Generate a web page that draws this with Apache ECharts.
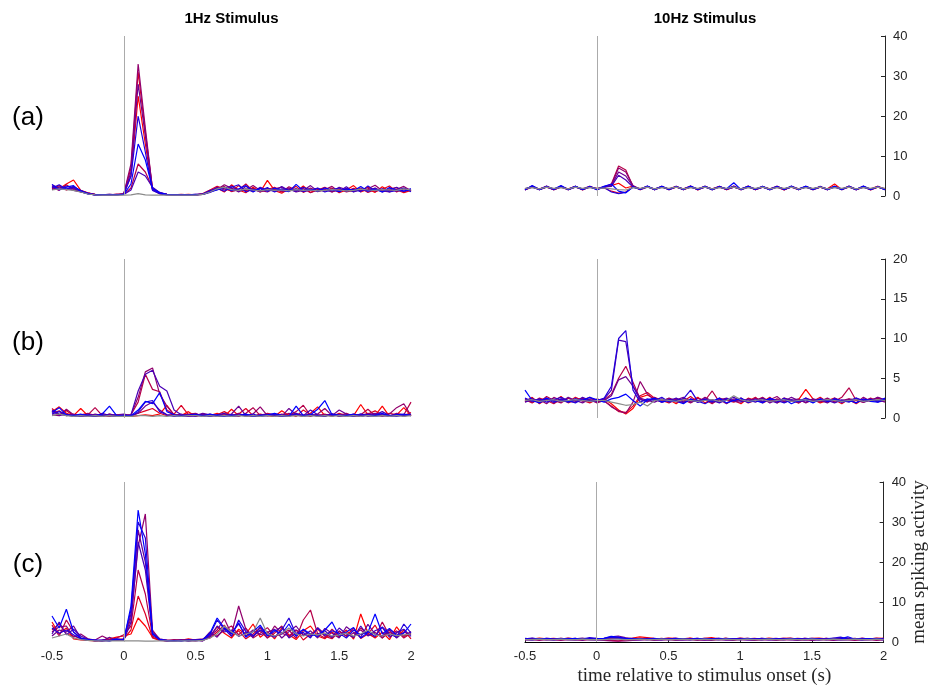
<!DOCTYPE html>
<html>
<head>
<meta charset="utf-8">
<script src="https://cdn.jsdelivr.net/npm/echarts@6/dist/echarts.min.js"></script>
<style>
html,body{margin:0;padding:0;background:#fff}
#chart{width:930px;height:687px}
</style>
</head>
<body>
<div id="chart"></div>
<script>
// Bin centres (s) relative to stimulus onset
const times = [-0.5,-0.45,-0.4,-0.35,-0.3,-0.25,-0.2,-0.15,-0.1,-0.05,
  0,0.05,0.1,0.15,0.2,0.25,0.3,0.35,0.4,0.45,
  0.5,0.55,0.6,0.65,0.7,0.75,0.8,0.85,0.9,0.95,
  1,1.05,1.1,1.15,1.2,1.25,1.3,1.35,1.4,1.45,
  1.5,1.55,1.6,1.65,1.7,1.75,1.8,1.85,1.9,1.95,2];

// Mean spiking activity per unit; 8 units (red -> blue) plus the grey population trace last
const respA1Hz = [
  [2.5,1.8,3.0,4.0,1.4,0.8,0.4,0.3,0.3,0.4, 0.5,5,25,13,1.5,0.6,0.4,0.3,0.3,0.4, 0.3,0.5,1.2,2.0,1.0,2.8,1.5,0.8,2.2,1.0, 3.9,1.4,0.7,1.8,1.1,2.5,0.9,1.6,1.2,2.0, 0.8,1.5,2.6,1.0,1.7,0.9,2.3,1.2,1.6,0.8,1.4],
  [1.8,2.6,1.5,2.0,1.2,0.7,0.3,0.3,0.4,0.3, 0.6,7,31,16,1.8,0.7,0.4,0.3,0.4,0.3, 0.3,0.6,1.5,2.4,1.8,1.2,2.6,1.3,1.9,1.0, 1.6,2.2,1.1,1.5,2.4,0.9,1.8,1.3,2.1,1.0, 1.6,1.2,1.9,1.4,2.2,1.1,1.7,2.5,1.0,1.9,1.2],
  [2.2,1.4,2.8,1.6,1.1,0.6,0.4,0.3,0.3,0.4, 0.4,2,8,6,2.0,0.8,0.4,0.3,0.3,0.3, 0.4,0.5,1.0,1.8,2.4,1.1,1.6,3.0,1.2,2.0, 1.3,1.7,1.0,2.3,1.4,1.9,0.8,1.5,2.2,1.1, 1.8,1.0,1.4,2.0,0.9,1.6,1.3,1.8,2.1,1.0,1.5],
  [2.8,2.0,1.6,2.4,1.3,0.7,0.3,0.3,0.3,0.3, 0.5,8,33,17,1.6,0.6,0.3,0.3,0.3,0.3, 0.3,0.5,1.4,1.6,2.8,1.9,1.2,1.5,2.6,1.4, 1.0,1.8,2.2,1.2,1.7,1.3,2.0,1.1,1.6,2.4, 1.0,1.9,1.2,1.5,1.8,2.7,1.3,1.0,1.7,2.4,1.3],
  [1.6,2.3,2.0,1.4,1.0,0.6,0.3,0.3,0.3,0.4, 0.5,6,28,15,1.7,0.7,0.4,0.3,0.3,0.3, 0.3,0.4,1.1,2.2,1.5,2.0,1.0,2.4,1.6,1.1, 1.9,1.3,1.6,2.0,1.0,1.4,2.6,1.2,1.5,1.0, 2.2,1.6,1.1,1.8,1.4,2.0,1.0,1.5,1.2,1.8,1.6],
  [2.4,1.9,2.5,1.8,1.2,0.7,0.4,0.3,0.3,0.3, 0.4,1.5,6,5,2.2,0.9,0.4,0.3,0.3,0.3, 0.3,0.4,0.9,1.7,2.0,2.5,1.3,1.8,1.0,2.2, 1.5,1.2,2.4,1.4,1.8,1.1,1.5,2.0,1.3,1.7, 1.2,2.3,1.0,1.6,1.3,1.9,1.1,1.4,2.2,1.2,1.7],
  [2.0,2.8,1.7,2.2,1.4,0.6,0.3,0.3,0.4,0.3, 0.5,5,20,11,1.4,0.6,0.3,0.3,0.3,0.3, 0.3,0.5,1.3,1.9,1.2,2.2,2.8,1.0,1.7,1.3, 2.1,1.0,1.8,1.5,1.2,2.2,1.4,1.9,1.0,1.6, 2.0,1.2,1.7,1.1,2.5,1.3,1.8,1.0,1.4,2.0,1.1],
  [2.9,1.5,2.2,2.6,1.1,0.5,0.3,0.3,0.3,0.3, 0.4,3,13,9,1.9,0.8,0.4,0.3,0.3,0.3, 0.4,0.4,1.0,1.5,2.2,1.4,1.8,2.6,1.1,1.9, 1.2,2.0,1.4,1.1,2.9,1.3,1.6,1.2,2.0,1.5, 1.1,1.8,1.3,2.4,1.2,1.7,1.0,2.1,1.4,1.2,1.8],
  [1.5,1.8,1.6,1.4,1.0,0.5,0.3,0.2,0.2,0.2, 0.2,0.3,0.6,0.3,0.2,0.2,0.2,0.2,0.2,0.2, 0.2,0.4,1.0,1.8,2.2,1.6,1.4,1.7,1.5,1.3, 1.6,1.4,1.5,1.3,1.6,1.4,1.5,1.3,1.4,1.6, 1.5,1.3,1.4,1.7,1.5,1.4,1.6,1.5,1.4,1.8,1.5]
];

const respA10Hz = [
  [1.5,2.3,1.7,2.4,1.6,2.2,1.8,2.4,1.5,2.3, 1.8,2.2,2.6,3.2,2.0,2.5,1.6,2.3,1.7,2.4, 1.6,2.2,1.8,2.5,1.5,2.4,1.7,2.3,1.6,2.2, 1.7,2.4,1.6,2.3,1.8,2.2,1.5,2.4,1.7,2.3, 1.6,2.2,1.8,3.0,1.6,2.3,1.7,2.4,1.5,2.2,1.8],
  [1.7,2.4,1.6,2.2,1.7,2.5,1.6,2.3,1.7,2.2, 1.9,2.0,1.2,0.7,1.0,2.3,1.8,2.4,1.6,2.3, 1.7,2.3,1.6,2.2,1.8,2.4,1.6,2.2,1.7,2.5, 1.6,2.2,1.8,2.3,1.6,2.4,1.7,2.2,1.6,2.3, 1.8,2.2,1.6,2.4,1.7,2.3,1.6,2.2,1.8,2.4,1.6],
  [1.6,2.2,1.8,2.3,1.6,2.4,1.7,2.2,1.8,2.4, 1.7,2.3,3.0,7.5,6.5,2.4,1.8,2.3,1.7,2.2, 1.8,2.4,1.6,2.3,1.7,2.2,1.8,2.4,1.6,2.3, 1.7,2.5,1.6,2.2,1.7,2.3,1.6,2.4,1.8,2.2, 1.7,2.3,1.6,2.4,1.7,2.2,1.6,2.3,1.7,2.4,1.7],
  [1.8,2.3,1.6,2.4,1.7,2.2,1.6,2.3,1.7,2.3, 1.6,2.2,2.8,7.0,6.0,2.6,1.7,2.4,1.6,2.3, 1.7,2.2,1.7,2.4,1.6,2.3,1.8,2.2,1.7,2.4, 1.6,2.3,1.7,2.4,1.6,2.2,1.8,2.3,1.6,2.4, 1.7,2.2,1.7,2.3,1.8,2.4,1.6,2.2,1.7,2.3,1.8],
  [1.7,2.5,1.7,2.2,1.6,2.3,1.7,2.4,1.6,2.2, 1.8,2.4,2.6,6.0,5.0,2.4,1.6,2.2,1.8,2.3, 1.6,2.4,1.7,2.2,1.8,2.3,1.6,2.4,1.7,2.2, 1.8,2.3,1.6,2.2,1.8,2.4,1.6,2.3,1.7,2.2, 1.6,2.4,1.7,2.3,1.6,2.5,1.7,2.3,1.6,2.2,1.7],
  [1.6,2.3,1.7,2.5,1.6,2.3,1.6,2.2,1.7,2.4, 1.7,2.3,2.4,5.2,4.0,2.2,1.7,2.4,1.6,2.2, 1.7,2.3,1.7,2.4,1.6,2.2,1.7,2.3,1.8,2.4, 1.6,2.2,1.7,2.3,1.7,2.4,1.6,2.3,1.7,2.2, 1.8,2.3,1.6,2.2,1.7,2.3,1.6,2.4,1.7,2.3,1.6],
  [1.8,2.2,1.6,2.3,1.8,2.3,1.7,2.4,1.6,2.3, 1.8,2.1,1.0,0.6,0.9,2.2,1.7,2.3,1.7,2.4, 1.6,2.3,1.8,2.2,1.7,2.4,1.6,2.3,1.7,2.2, 1.8,2.4,1.7,2.2,1.6,2.3,1.7,2.2,1.8,2.4, 1.6,2.2,1.8,2.3,1.6,2.4,1.7,2.2,1.6,2.3,1.7],
  [1.5,2.6,1.6,2.3,1.7,2.6,1.6,2.4,1.7,2.3, 1.6,2.4,3.0,1.2,0.8,2.3,1.7,2.5,1.6,2.4, 1.7,2.3,1.6,2.5,1.7,2.4,1.6,2.3,1.8,3.3, 1.6,2.4,1.7,2.4,1.6,2.3,1.7,2.5,1.6,2.4, 1.7,2.3,1.6,2.4,1.7,2.3,1.6,2.5,1.7,2.3,1.6],
  [1.9,2.1,1.8,2.2,1.9,2.1,1.8,2.2,1.9,2.1, 1.9,2.0,1.8,1.6,1.5,2.1,1.9,2.2,1.8,2.1, 1.9,2.2,1.8,2.1,1.9,2.2,1.8,2.1,1.9,2.2, 1.8,2.1,1.9,2.2,1.8,2.1,1.9,2.2,1.8,2.1, 1.9,2.2,1.8,2.1,1.9,2.2,1.8,2.1,1.9,2.2,1.9]
];

const respB1Hz = [
  [0.8,1.4,0.6,0.3,1.2,0.3,0.2,0.4,0.3,0.4, 0.3,0.2,0.3,0.4,0.3,0.5,1.6,0.4,0.3,0.8, 0.2,0.4,0.3,0.6,0.2,1.1,0.3,0.4,0.2,0.5, 0.3,0.2,0.9,0.3,0.4,0.2,0.6,1.4,0.3,0.5, 0.2,0.4,0.3,1.7,0.4,0.3,1.5,0.2,0.4,1.3,0.3],
  [1.2,0.4,0.9,0.3,0.4,0.6,0.3,0.2,0.5,0.3, 0.4,0.3,0.6,0.9,1.2,0.6,0.3,0.5,1.6,0.4, 0.3,0.5,0.2,0.4,0.8,0.3,0.5,1.2,0.3,0.2, 0.6,0.4,0.3,0.5,0.2,1.0,0.4,0.3,0.5,0.2, 0.6,0.3,0.4,0.2,0.5,0.9,0.3,0.6,0.4,0.3,0.7],
  [0.6,0.9,0.3,0.5,0.2,0.4,1.3,0.3,0.2,0.4, 0.3,0.4,2.0,5.5,3.6,3.3,1.0,0.4,0.3,0.5, 0.6,0.2,0.4,0.3,0.5,0.4,0.2,0.6,1.3,0.3, 0.4,0.2,0.5,0.3,0.8,1.6,0.3,0.4,0.2,0.5, 0.3,0.6,0.2,0.4,1.1,0.3,0.5,0.2,0.6,0.4,2.0],
  [0.4,0.3,1.1,0.4,0.3,0.2,0.5,0.3,0.4,0.2, 0.3,0.4,2.6,5.8,6.3,3.0,1.5,0.4,0.3,0.2, 0.4,0.3,0.5,0.2,0.4,0.3,0.6,0.2,0.5,1.4, 0.3,0.4,0.2,0.6,0.3,0.4,0.2,0.5,1.2,0.3, 0.4,0.2,0.5,0.3,0.6,0.4,0.2,0.5,1.3,1.8,0.3],
  [0.9,0.3,0.5,0.2,0.4,0.3,0.2,0.6,0.3,0.4, 0.5,0.3,0.6,1.5,2.0,1.0,0.4,0.3,0.5,0.2, 0.3,0.6,0.4,0.2,0.3,0.5,1.5,0.3,0.2,0.4, 0.5,0.3,0.2,1.2,0.4,0.3,0.5,0.2,0.4,0.3, 1.0,0.5,0.3,0.2,0.4,0.6,0.3,0.2,0.5,0.3,0.4],
  [1.0,0.5,0.3,0.4,0.2,0.3,0.4,0.2,0.5,0.3, 0.2,0.4,3.4,5.5,6.0,4.0,3.4,1.0,0.4,0.3, 0.2,0.5,0.3,0.4,0.6,0.2,0.3,0.5,0.2,0.4, 0.3,0.5,0.4,0.2,0.6,0.3,1.0,0.4,0.3,0.5, 0.2,0.4,0.3,0.5,0.2,0.4,0.8,0.3,0.5,0.2,0.5],
  [0.5,0.8,0.4,0.2,0.3,0.5,0.2,0.4,0.3,0.2, 0.4,0.2,0.8,2.0,2.2,0.8,0.4,0.2,0.3,0.4, 0.5,0.3,0.2,0.4,0.3,0.2,0.4,0.3,0.5,0.2, 0.3,0.4,0.2,0.3,0.5,0.2,0.4,0.3,0.2,0.5, 0.4,0.3,0.2,0.5,0.3,0.2,0.4,0.3,0.2,0.4,0.3],
  [0.7,1.3,0.4,0.3,0.5,0.2,0.3,0.5,1.5,0.3, 0.2,0.3,1.0,2.1,1.8,3.2,0.8,0.4,0.2,0.3, 0.4,0.2,0.5,0.3,0.2,0.4,0.3,0.5,0.2,0.3, 0.4,0.6,0.3,0.2,1.5,0.3,0.4,1.1,2.2,0.4, 0.3,0.3,0.5,0.2,0.4,0.3,0.6,0.2,0.4,0.5,0.3],
  [0.3,0.5,0.3,0.2,0.3,0.2,0.3,0.2,0.3,0.2, 0.2,0.2,0.3,0.3,0.2,0.3,0.2,0.3,0.2,0.3, 0.3,0.2,0.3,0.2,0.3,0.2,0.3,0.2,0.3,0.2, 0.3,0.2,0.3,0.2,0.3,0.2,0.3,0.2,0.3,0.2, 0.3,0.2,0.3,0.2,0.3,0.2,0.3,0.2,0.3,0.2,0.3]
];

const respB10Hz = [
  [2.0,2.6,1.8,2.4,2.1,2.7,1.9,2.3,2.5,2.0, 2.2,2.4,1.8,1.0,0.5,1.2,2.6,2.9,2.4,2.0, 2.3,1.8,2.5,2.1,2.6,1.9,2.3,2.0,2.4,2.2, 1.8,2.5,2.2,2.0,2.6,1.9,2.3,2.1,2.3,3.6, 2.4,1.9,2.2,2.5,2.0,2.3,1.8,2.4,2.1,2.6,2.2],
  [2.3,1.9,2.5,2.2,1.8,2.4,2.0,2.6,2.2,1.9, 2.4,2.1,1.5,0.8,0.7,1.5,2.8,3.2,2.5,2.2, 1.9,2.4,2.1,2.7,2.0,2.3,1.8,2.5,2.2,2.0, 2.4,2.1,2.6,1.9,2.3,2.0,2.5,2.2,1.9,2.4, 2.1,2.6,2.0,2.3,1.8,2.4,2.2,2.0,2.5,2.1,2.3],
  [2.1,2.4,2.0,2.7,2.2,1.9,2.5,2.1,2.3,2.6, 2.0,2.3,3.0,5.0,6.5,4.5,2.4,2.0,2.6,2.2, 2.4,2.0,2.3,1.9,2.5,2.2,3.4,2.0,2.3,2.1, 2.5,1.9,2.2,2.6,2.0,2.4,2.1,2.3,1.9,2.5, 2.2,2.0,2.4,2.1,2.6,3.8,2.2,2.0,2.3,2.5,2.1],
  [2.4,2.0,2.3,1.8,2.6,2.2,2.0,2.4,2.1,2.3, 1.9,2.2,1.4,0.9,0.6,2.0,4.6,3.0,2.3,2.1, 2.5,2.2,1.9,2.4,2.0,2.6,2.1,2.3,1.8,2.4, 2.2,2.0,2.5,2.1,2.3,2.7,2.0,2.2,2.4,1.9, 2.3,2.1,2.5,2.0,2.2,2.4,1.9,2.6,2.1,2.3,2.0],
  [2.2,2.5,1.9,2.3,2.4,2.0,2.6,2.2,1.9,2.4, 2.3,2.2,2.8,4.8,5.2,4.0,2.5,2.2,2.0,2.4, 2.1,2.3,2.6,2.0,2.2,2.4,1.9,2.3,2.5,2.1, 2.0,2.4,2.2,2.5,1.9,2.3,2.1,2.6,2.2,2.0, 2.4,2.2,1.9,2.5,2.1,2.3,2.4,2.0,2.2,2.6,2.3],
  [2.0,2.3,2.2,2.5,1.9,2.4,2.1,2.0,2.6,2.2, 2.1,2.4,3.5,9.8,9.6,4.0,2.3,2.1,2.4,2.0, 2.2,2.5,2.0,2.3,2.1,2.4,2.2,1.9,2.3,2.6, 2.1,2.3,2.0,2.4,2.2,1.9,2.5,2.2,2.0,2.3, 2.1,2.4,2.2,1.9,2.3,2.1,2.5,2.2,2.4,2.0,2.2],
  [2.5,2.1,2.4,2.0,2.3,2.6,2.2,1.9,2.4,2.1, 2.2,2.5,4.0,10.0,11.0,3.5,2.0,2.4,2.2,2.6, 2.0,2.2,2.4,3.5,2.1,1.8,2.3,2.0,2.4,2.2, 2.5,2.0,2.3,2.1,2.4,2.2,1.9,2.3,2.1,2.5, 2.0,2.3,2.1,2.4,2.2,2.0,2.5,2.1,2.3,2.2,2.4],
  [3.5,2.2,1.9,2.5,2.1,2.3,2.0,2.4,2.2,2.6, 2.3,2.0,2.4,2.6,3.0,2.2,1.5,2.3,2.5,2.0, 2.3,2.1,1.8,2.4,2.0,2.3,2.1,2.5,1.9,2.2, 2.4,2.0,2.2,1.9,2.5,2.1,2.4,1.8,2.2,2.3, 1.9,2.4,2.1,2.3,2.0,2.2,1.9,2.4,2.1,2.0,2.5],
  [2.2,2.3,2.1,2.2,2.3,2.1,2.2,2.3,2.2,2.1, 2.2,2.2,2.0,1.8,1.6,1.7,2.0,1.5,2.2,2.3, 2.2,2.1,2.3,2.2,2.1,2.2,2.3,2.1,2.2,2.8, 2.3,2.1,2.2,2.3,2.1,2.2,2.3,2.1,2.2,2.3, 2.1,2.2,2.3,2.2,2.1,2.2,2.3,2.1,2.2,2.3,2.2]
];

const respC1Hz = [
  [5.0,2.0,3.5,0.8,0.5,0.4,0.3,0.5,0.8,1.2, 1.5,2.0,6.0,4.0,1.2,0.5,0.3,0.6,0.4,0.8, 0.5,0.3,1.5,3.8,2.2,1.0,3.2,2.0,4.5,1.2, 2.6,0.8,3.5,1.8,0.6,2.8,4.0,1.5,0.8,2.5, 1.2,3.0,0.7,7.0,2.2,1.0,2.5,0.6,3.8,1.4,2.0],
  [3.0,4.5,2.0,1.5,0.8,0.5,0.4,0.3,0.5,0.7, 0.8,3.0,11.5,7.0,1.0,0.4,0.3,0.4,0.6,0.3, 0.4,0.5,1.0,2.5,4.2,1.5,2.8,0.8,2.0,3.5, 1.0,2.2,4.0,1.2,3.0,0.5,2.0,3.2,1.4,0.8, 2.6,1.5,3.5,0.9,2.0,4.2,1.0,2.5,1.2,3.0,0.8],
  [4.2,1.5,5.5,2.5,1.0,0.6,0.3,0.4,0.6,1.0, 1.8,4.0,18.0,12.0,1.5,0.6,0.5,0.3,0.4,0.5, 0.3,0.6,2.0,1.5,3.0,4.0,1.8,3.5,1.0,2.2, 3.6,1.4,2.0,3.0,0.9,5.5,8.0,2.0,1.0,3.2, 1.5,2.4,1.0,3.5,2.0,1.2,5.0,1.6,2.8,1.0,2.2],
  [2.5,3.8,4.0,1.2,2.0,0.8,0.5,1.5,0.6,0.4, 0.6,6.0,24.0,32.0,3.0,0.6,0.4,0.3,0.5,0.4, 0.6,0.8,1.5,3.0,5.8,2.0,9.0,3.2,1.5,2.8, 1.0,4.0,2.2,1.5,3.0,2.0,1.2,3.6,2.0,1.0, 2.8,1.4,2.2,3.0,1.6,2.4,1.0,3.2,2.0,1.5,2.6],
  [1.5,3.0,2.5,4.0,1.0,0.5,0.4,0.3,1.2,0.5, 0.5,7.0,28.0,20.0,2.5,0.8,0.4,0.5,0.3,0.6, 0.4,0.5,2.5,1.2,3.5,2.2,4.5,1.5,3.0,1.8, 2.4,3.2,1.0,2.6,4.0,1.6,2.8,1.0,3.4,2.2, 1.0,3.8,2.4,1.2,4.4,2.0,1.5,3.0,1.0,2.5,1.8],
  [2.0,5.0,1.8,3.2,1.5,0.7,0.3,0.4,0.3,0.6, 0.4,5.0,25.0,18.0,2.0,0.5,0.3,0.4,0.5,0.3, 0.5,0.4,1.2,4.0,2.5,3.0,1.4,2.4,1.2,3.8, 1.5,2.6,3.8,1.0,2.2,3.0,1.6,2.0,2.8,1.2, 3.5,2.0,1.2,4.0,1.5,2.8,3.6,1.2,2.4,3.2,1.4],
  [3.5,2.2,3.0,1.8,0.8,0.4,0.5,0.3,0.4,0.5, 0.7,8.0,30.0,26.0,2.2,0.5,0.3,0.3,0.4,0.3, 0.4,0.3,1.8,5.5,3.2,1.4,5.5,2.6,1.6,3.0, 2.0,1.2,3.0,6.0,1.8,2.4,1.0,3.5,1.6,2.8, 2.2,1.0,3.0,1.8,2.6,1.4,3.8,2.0,1.2,4.5,2.2],
  [6.5,3.5,8.2,2.5,1.0,0.6,0.4,0.5,0.3,0.8, 0.5,9.0,33.0,22.0,2.0,0.6,0.4,0.3,0.3,0.5, 0.4,0.6,2.2,6.0,3.5,2.0,4.8,1.2,2.6,4.2, 1.6,3.0,2.0,4.5,1.4,3.2,2.0,1.4,3.0,5.0, 1.5,2.5,3.6,1.0,2.4,7.0,2.0,3.4,1.6,2.2,4.5],
  [1.0,1.5,2.0,1.0,0.6,0.4,0.3,0.3,0.3,0.3, 0.3,0.3,0.3,0.2,0.2,0.3,0.3,0.2,0.3,0.3, 0.3,0.4,1.0,2.0,4.0,2.5,1.5,2.0,2.5,6.0, 2.0,1.5,2.2,3.5,2.0,1.5,2.0,1.8,2.2,1.5, 1.8,2.2,1.5,2.0,3.0,1.8,1.5,2.0,1.6,1.8,2.0]
];

const respC10Hz = [
  [0.8,0.7,1.0,0.8,0.9,0.7,1.0,0.8,0.7,0.9, 0.8,0.6,0.9,1.0,0.8,1.0,1.3,1.1,0.9,0.8, 1.0,0.9,0.8,1.0,0.7,0.9,1.1,0.8,0.9,0.7, 1.0,0.8,0.9,0.7,1.0,0.8,0.9,1.0,0.7,0.8, 0.9,1.0,0.8,0.7,0.9,1.0,0.8,0.9,0.7,1.0,0.9],
  [0.6,0.9,0.7,0.8,0.6,0.9,0.7,0.6,0.8,0.7, 0.9,0.5,0.4,0.3,0.5,0.7,0.9,0.8,0.6,0.9, 0.7,0.8,0.6,0.9,0.7,0.6,0.8,0.7,0.9,0.6, 0.8,0.7,0.6,0.9,0.7,0.8,0.6,0.7,0.9,0.8, 0.6,0.7,0.9,0.6,0.8,0.7,0.6,0.9,0.8,0.7,0.8],
  [0.7,0.8,0.6,0.9,0.8,0.6,0.7,0.9,0.6,0.8, 0.7,0.8,1.0,1.2,0.9,0.8,0.7,0.9,0.6,0.8, 0.9,0.7,0.8,0.6,0.9,0.7,0.8,0.9,0.6,0.7, 0.8,0.9,0.7,0.6,0.8,0.9,0.7,0.8,0.6,0.9, 0.7,0.8,0.6,0.9,0.7,0.8,0.9,0.6,0.8,0.7,0.8],
  [0.5,0.6,0.4,0.6,0.5,0.4,0.6,0.5,0.4,0.6, 0.5,0.4,0.3,0.2,0.3,0.4,0.5,0.6,0.4,0.5, 0.6,0.4,0.5,0.6,0.4,0.5,0.4,0.6,0.5,0.4, 0.6,0.5,0.4,0.5,0.6,0.4,0.5,0.6,0.4,0.5, 0.4,0.6,0.5,0.4,0.6,0.5,0.4,0.5,0.6,0.4,0.5],
  [0.9,0.7,0.8,0.6,0.8,0.9,0.7,0.8,1.0,0.7, 0.8,0.9,1.3,1.5,1.1,0.8,0.7,0.9,0.8,0.6, 0.8,0.9,0.7,0.8,0.6,0.9,0.8,0.7,0.9,0.8, 0.7,0.9,0.8,0.6,0.8,0.7,0.9,0.8,0.7,0.9, 0.8,0.6,0.9,0.8,0.7,0.9,0.8,0.7,0.8,0.9,0.7],
  [0.6,0.5,0.7,0.6,0.5,0.7,0.6,0.5,0.7,0.6, 0.5,0.6,0.8,0.9,0.7,0.6,0.5,0.7,0.6,0.5, 0.7,0.6,0.5,0.6,0.7,0.5,0.6,0.7,0.5,0.6, 0.7,0.5,0.6,0.7,0.5,0.6,0.7,0.6,0.5,0.7, 0.6,0.5,0.7,0.6,0.5,0.6,0.7,0.5,0.6,0.7,0.6],
  [0.8,1.0,0.7,0.9,0.8,0.7,0.9,0.8,0.7,1.1, 0.9,0.8,1.2,1.0,0.8,0.9,0.7,0.8,0.9,0.7, 0.8,0.9,0.7,0.8,0.9,0.7,0.8,0.9,0.8,0.7, 0.9,0.8,0.7,0.9,0.8,0.7,0.8,0.9,0.7,0.8, 0.9,0.7,0.8,1.0,1.2,0.8,0.7,0.9,0.8,0.7,0.9],
  [0.7,0.6,0.8,0.7,0.6,0.8,0.7,0.9,0.6,0.8, 0.7,0.9,1.4,1.2,0.9,0.7,0.8,0.6,0.7,0.8, 0.6,0.7,0.8,0.6,0.7,0.8,0.7,0.6,0.8,0.7, 0.6,0.8,0.7,0.6,0.7,0.8,0.6,0.7,0.8,0.6, 0.7,0.8,0.6,0.7,0.8,1.3,0.7,0.6,0.8,0.7,0.6],
  [0.6,0.6,0.7,0.6,0.6,0.7,0.6,0.6,0.7,0.6, 0.6,0.6,0.7,0.7,0.6,0.6,0.7,0.6,0.6,0.7, 0.6,0.6,0.7,0.6,0.6,0.7,0.6,0.6,0.7,0.6, 0.6,0.7,0.6,0.6,0.7,0.6,0.6,0.7,0.6,0.6, 0.7,0.6,0.6,0.7,0.6,0.6,0.7,0.6,0.6,0.7,0.6]
];

const columnTitles = ['1Hz Stimulus', '10Hz Stimulus'];
const rowTitles = ['(a)', '(b)', '(c)'];
const yMaxByRow = [40, 20, 40];
const yStepByRow = [10, 5, 10];
const xTicks = { min: -0.5, max: 2, step: 0.5 };

// Unit colours run from red to blue; last trace is grey
const unitColors = ['#ff0000','#db0024','#b60049','#92006d','#6d0092','#4900b6','#2400db','#0000ff'];
const greyTrace = '#8a8a8a';

const panelData = [[respA1Hz, respA10Hz], [respB1Hz, respB10Hz], [respC1Hz, respC10Hz]];
const colLeft = [52, 525], colWidth = [359, 360];
const rowTop = [36, 259, 482], rowHeight = [160, 159, 160];

const axisInk = '#262626';
const sans = 'Liberation Sans, Arial, sans-serif';
const serif = 'Liberation Serif, Times New Roman, serif';

const grid = [], xAxis = [], yAxis = [], series = [], graphic = [];

for (let r = 0; r < 3; r++) {
  for (let c = 0; c < 2; c++) {
    const idx = r * 2 + c;
    grid.push({ left: colLeft[c], top: rowTop[r], width: colWidth[c], height: rowHeight[r], containLabel: false });
    const bottomRight = (r === 2 && c === 1);
    xAxis.push({
      type: 'value', gridIndex: idx,
      min: xTicks.min, max: xTicks.max, interval: xTicks.step,
      show: r === 2,
      axisLine: { show: c === 1, onZero: false, lineStyle: { color: '#000', width: 1 } },
      axisTick: { show: c === 1, inside: true, length: 4, lineStyle: { color: axisInk } },
      axisLabel: { color: axisInk, fontSize: 13, fontFamily: sans, margin: 8 },
      splitLine: { show: false },
      name: bottomRight ? 'time relative to stimulus onset (s)' : '',
      nameLocation: 'middle', nameGap: 25,
      nameTextStyle: { fontFamily: serif, fontSize: 19, color: axisInk }
    });
    yAxis.push({
      type: 'value', gridIndex: idx,
      min: 0, max: yMaxByRow[r], interval: yStepByRow[r],
      show: c === 1, position: 'right',
      axisLine: { show: true, onZero: false, lineStyle: { color: axisInk, width: 1 } },
      axisTick: { show: true, inside: true, length: 4, lineStyle: { color: axisInk } },
      axisLabel: { color: axisInk, fontSize: 13, fontFamily: sans, margin: 8 },
      splitLine: { show: false },
      name: bottomRight ? 'mean spiking activity' : '',
      nameLocation: 'middle', nameGap: 24, nameRotate: 90,
      nameTextStyle: { fontFamily: serif, fontSize: 19, color: axisInk }
    });
    panelData[r][c].forEach((vals, k) => {
      const s = {
        type: 'line', xAxisIndex: idx, yAxisIndex: idx,
        data: times.map((t, i) => [t, vals[i]]),
        symbol: 'none', silent: true,
        lineStyle: { width: 1.2, color: k < unitColors.length ? unitColors[k] : greyTrace },
        emphasis: { disabled: true }
      };
      if (k === 0) {
        // stimulus onset marker
        s.markLine = {
          silent: true, symbol: ['none', 'none'], label: { show: false },
          lineStyle: { color: '#ababab', type: 'solid', width: 1 },
          emphasis: { disabled: true },
          data: [{ xAxis: 0 }]
        };
      }
      series.push(s);
    });
  }
}

columnTitles.forEach((t, c) => {
  graphic.push({
    type: 'text', x: colLeft[c] + colWidth[c] / 2, y: 19,
    style: { text: t, textAlign: 'center', textVerticalAlign: 'middle', font: 'bold 15px ' + sans, fill: '#000' }
  });
});
rowTitles.forEach((t, r) => {
  graphic.push({
    type: 'text', x: 28, y: [118, 343, 565][r],
    style: { text: t, textAlign: 'center', textVerticalAlign: 'middle', font: '26px ' + sans, fill: '#000' }
  });
});

const chart = echarts.init(document.getElementById('chart'), null, { renderer: 'canvas' });
chart.setOption({
  animation: false,
  backgroundColor: '#fff',
  grid, xAxis, yAxis, series, graphic
});
</script>
</body>
</html>
